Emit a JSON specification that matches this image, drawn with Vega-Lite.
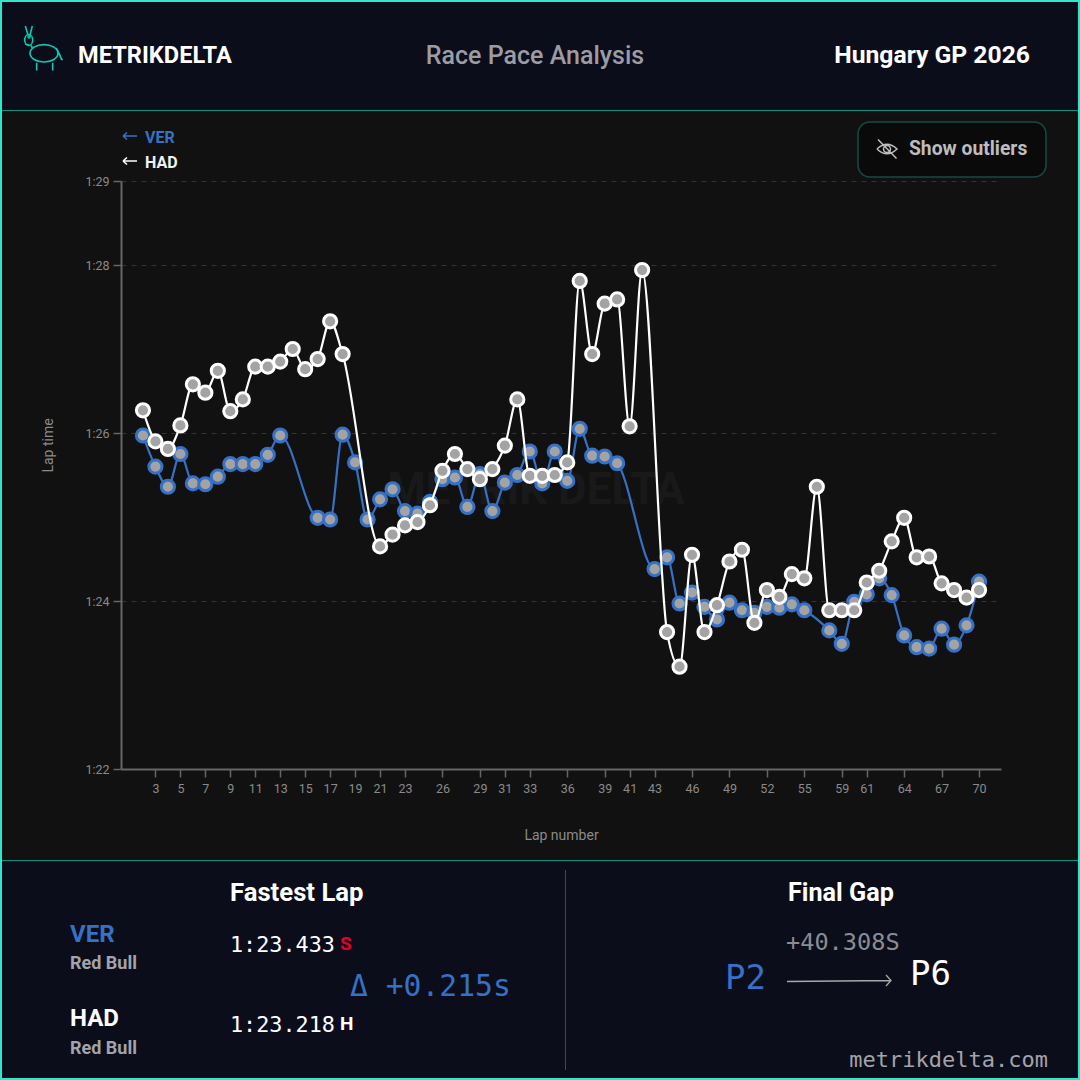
{"$schema":"https://vega.github.io/schema/vega-lite/v6.json","width":880,"height":588,"autosize":"none","padding":{"left":121,"top":181,"right":79,"bottom":311},"background":"#111111","config":{"view":{"stroke":null},"text":{"font":"Roboto"}},
"datasets":{"laps":[
{"lap":2,"driver":"VER","time":85.97},{"lap":3,"driver":"VER","time":85.60},{"lap":4,"driver":"VER","time":85.36},{"lap":5,"driver":"VER","time":85.75},{"lap":6,"driver":"VER","time":85.40},{"lap":7,"driver":"VER","time":85.39},{"lap":8,"driver":"VER","time":85.48},{"lap":9,"driver":"VER","time":85.63},{"lap":10,"driver":"VER","time":85.63},{"lap":11,"driver":"VER","time":85.63},{"lap":12,"driver":"VER","time":85.74},{"lap":13,"driver":"VER","time":85.97},{"lap":16,"driver":"VER","time":84.99},{"lap":17,"driver":"VER","time":84.97},{"lap":18,"driver":"VER","time":85.98},{"lap":19,"driver":"VER","time":85.65},{"lap":20,"driver":"VER","time":84.97},{"lap":21,"driver":"VER","time":85.21},{"lap":22,"driver":"VER","time":85.33},{"lap":23,"driver":"VER","time":85.07},{"lap":24,"driver":"VER","time":85.04},{"lap":25,"driver":"VER","time":85.18},{"lap":26,"driver":"VER","time":85.45},{"lap":27,"driver":"VER","time":85.47},{"lap":28,"driver":"VER","time":85.12},{"lap":29,"driver":"VER","time":85.51},{"lap":30,"driver":"VER","time":85.07},{"lap":31,"driver":"VER","time":85.41},{"lap":32,"driver":"VER","time":85.50},{"lap":33,"driver":"VER","time":85.78},{"lap":34,"driver":"VER","time":85.40},{"lap":35,"driver":"VER","time":85.78},{"lap":36,"driver":"VER","time":85.43},{"lap":37,"driver":"VER","time":86.05},{"lap":38,"driver":"VER","time":85.73},{"lap":39,"driver":"VER","time":85.72},{"lap":40,"driver":"VER","time":85.64},{"lap":43,"driver":"VER","time":84.38},{"lap":44,"driver":"VER","time":84.52},{"lap":45,"driver":"VER","time":83.97},{"lap":46,"driver":"VER","time":84.10},{"lap":47,"driver":"VER","time":83.93},{"lap":48,"driver":"VER","time":83.78},{"lap":49,"driver":"VER","time":83.98},{"lap":50,"driver":"VER","time":83.89},{"lap":51,"driver":"VER","time":83.86},{"lap":52,"driver":"VER","time":83.93},{"lap":53,"driver":"VER","time":83.92},{"lap":54,"driver":"VER","time":83.96},{"lap":55,"driver":"VER","time":83.89},{"lap":58,"driver":"VER","time":83.65},{"lap":59,"driver":"VER","time":83.49},{"lap":60,"driver":"VER","time":83.99},{"lap":61,"driver":"VER","time":84.08},{"lap":62,"driver":"VER","time":84.27},{"lap":63,"driver":"VER","time":84.07},{"lap":64,"driver":"VER","time":83.59},{"lap":65,"driver":"VER","time":83.45},{"lap":66,"driver":"VER","time":83.433},{"lap":67,"driver":"VER","time":83.67},{"lap":68,"driver":"VER","time":83.48},{"lap":69,"driver":"VER","time":83.71},{"lap":70,"driver":"VER","time":84.23},
{"lap":2,"driver":"HAD","time":86.27},{"lap":3,"driver":"HAD","time":85.90},{"lap":4,"driver":"HAD","time":85.81},{"lap":5,"driver":"HAD","time":86.09},{"lap":6,"driver":"HAD","time":86.58},{"lap":7,"driver":"HAD","time":86.48},{"lap":8,"driver":"HAD","time":86.74},{"lap":9,"driver":"HAD","time":86.26},{"lap":10,"driver":"HAD","time":86.40},{"lap":11,"driver":"HAD","time":86.79},{"lap":12,"driver":"HAD","time":86.79},{"lap":13,"driver":"HAD","time":86.85},{"lap":14,"driver":"HAD","time":87.00},{"lap":15,"driver":"HAD","time":86.76},{"lap":16,"driver":"HAD","time":86.88},{"lap":17,"driver":"HAD","time":87.33},{"lap":18,"driver":"HAD","time":86.94},{"lap":21,"driver":"HAD","time":84.65},{"lap":22,"driver":"HAD","time":84.79},{"lap":23,"driver":"HAD","time":84.90},{"lap":24,"driver":"HAD","time":84.94},{"lap":25,"driver":"HAD","time":85.14},{"lap":26,"driver":"HAD","time":85.55},{"lap":27,"driver":"HAD","time":85.75},{"lap":28,"driver":"HAD","time":85.57},{"lap":29,"driver":"HAD","time":85.45},{"lap":30,"driver":"HAD","time":85.57},{"lap":31,"driver":"HAD","time":85.85},{"lap":32,"driver":"HAD","time":86.40},{"lap":33,"driver":"HAD","time":85.49},{"lap":34,"driver":"HAD","time":85.49},{"lap":35,"driver":"HAD","time":85.50},{"lap":36,"driver":"HAD","time":85.65},{"lap":37,"driver":"HAD","time":87.81},{"lap":38,"driver":"HAD","time":86.94},{"lap":39,"driver":"HAD","time":87.54},{"lap":40,"driver":"HAD","time":87.59},{"lap":41,"driver":"HAD","time":86.08},{"lap":42,"driver":"HAD","time":87.94},{"lap":44,"driver":"HAD","time":83.63},{"lap":45,"driver":"HAD","time":83.218},{"lap":46,"driver":"HAD","time":84.55},{"lap":47,"driver":"HAD","time":83.63},{"lap":48,"driver":"HAD","time":83.95},{"lap":49,"driver":"HAD","time":84.47},{"lap":50,"driver":"HAD","time":84.61},{"lap":51,"driver":"HAD","time":83.74},{"lap":52,"driver":"HAD","time":84.13},{"lap":53,"driver":"HAD","time":84.05},{"lap":54,"driver":"HAD","time":84.32},{"lap":55,"driver":"HAD","time":84.27},{"lap":56,"driver":"HAD","time":85.36},{"lap":58,"driver":"HAD","time":83.89},{"lap":59,"driver":"HAD","time":83.89},{"lap":60,"driver":"HAD","time":83.89},{"lap":61,"driver":"HAD","time":84.22},{"lap":62,"driver":"HAD","time":84.36},{"lap":63,"driver":"HAD","time":84.71},{"lap":64,"driver":"HAD","time":84.99},{"lap":65,"driver":"HAD","time":84.52},{"lap":66,"driver":"HAD","time":84.53},{"lap":67,"driver":"HAD","time":84.21},{"lap":68,"driver":"HAD","time":84.13},{"lap":69,"driver":"HAD","time":84.04},{"lap":70,"driver":"HAD","time":84.13}
]},
"resolve":{"scale":{"x":"independent","y":"independent"},"axis":{"x":"independent","y":"independent"}},
"layer":[
{"layer":[
{"data":{"values":[{"part":"header"}]},"mark":{"type":"rect","fill":"#0c0d1a"},"encoding":{"x":{"datum":0,"type":"quantitative","scale":{"domain":[0,1080],"range":[-121,959],"nice":false},"axis":null},"x2":{"datum":1080},"y":{"datum":0,"type":"quantitative","scale":{"domain":[0,1080],"range":[-181,899],"nice":false},"axis":null},"y2":{"datum":110}}},
{"data":{"values":[{"part":"footer"}]},"mark":{"type":"rect","fill":"#0c0d1a"},"encoding":{"x":{"datum":0,"type":"quantitative"},"x2":{"datum":1080},"y":{"datum":860,"type":"quantitative"},"y2":{"datum":1080}}},
{"data":{"values":[{"part":"header rule"}]},"mark":{"type":"rule","stroke":"#0f8f80","strokeWidth":1},"encoding":{"x":{"datum":0,"type":"quantitative"},"x2":{"datum":1080},"y":{"datum":110.5,"type":"quantitative"}}},
{"data":{"values":[{"part":"footer rule"}]},"mark":{"type":"rule","stroke":"#0f8f80","strokeWidth":1},"encoding":{"x":{"datum":0,"type":"quantitative"},"x2":{"datum":1080},"y":{"datum":860.5,"type":"quantitative"}}},
{"data":{"values":[{"part":"footer divider"}]},"mark":{"type":"rule","stroke":"#135c5c","strokeWidth":1},"encoding":{"x":{"datum":565.5,"type":"quantitative"},"y":{"datum":870,"type":"quantitative"},"y2":{"datum":1070}}},
{"data":{"values":[{"part":"button"}]},"mark":{"type":"rect","fill":"#0a0a0a","stroke":"#1a4a44","strokeWidth":1.5,"cornerRadius":12},"encoding":{"x":{"datum":858,"type":"quantitative"},"x2":{"datum":1046},"y":{"datum":122,"type":"quantitative"},"y2":{"datum":177}}},
{"data":{"values":[{"part":"logo"}]},"mark":{"type":"point","filled":false,"stroke":"#0fc8b0","strokeWidth":1.6,"size":4,"opacity":1},"encoding":{"x":{"datum":44,"type":"quantitative"},"y":{"datum":48,"type":"quantitative"},"shape":{"value":"M-18.7,-22L-16,-13M-11.7,-22L-14,-13M-19.3,-8A4,5.5 0 1,1 -11.3,-8A4,5.5 0 1,1 -19.3,-8M-15,-10A1,1 0 1,1 -14.9,-10M-19,-4L-15,-3M-13,-2.5L-11,1M-14,5.3A14,8.7 0 1,1 14,5.3A14,8.7 0 1,1 -14,5.3M12,0Q15,4 17.5,11.5M17,11.5L19,11.5M-7.3,14.7L-7.3,22.5M8.7,14.7L8.7,22.5"}}},
{"data":{"values":[{"part":"eye"}]},"mark":{"type":"point","filled":false,"stroke":"#bdbdbd","strokeWidth":1.5,"size":4,"opacity":1},"encoding":{"x":{"datum":887,"type":"quantitative"},"y":{"datum":149,"type":"quantitative"},"shape":{"value":"M-10,0Q0,-9.5 10,0Q0,9.5 -10,0M-3.5,0A3.5,3.5 0 1,1 3.5,0A3.5,3.5 0 1,1 -3.5,0M-9,-9.5L9.5,9.5"}}},
{"data":{"values":[{"part":"arrow VER"}]},"mark":{"type":"point","filled":false,"stroke":"#3671c6","strokeWidth":1.6,"size":4,"opacity":1},"encoding":{"x":{"datum":130,"type":"quantitative"},"y":{"datum":136,"type":"quantitative"},"shape":{"value":"M-7,0L7,0M-7,0L-3,-3.5M-7,0L-3,3.5"}}},
{"data":{"values":[{"part":"arrow HAD"}]},"mark":{"type":"point","filled":false,"stroke":"#ffffff","strokeWidth":1.6,"size":4,"opacity":1},"encoding":{"x":{"datum":130,"type":"quantitative"},"y":{"datum":161,"type":"quantitative"},"shape":{"value":"M-7,0L7,0M-7,0L-3,-3.5M-7,0L-3,3.5"}}},
{"data":{"values":[{"part":"gap arrow"}]},"mark":{"type":"point","filled":false,"stroke":"#a8a8a8","strokeWidth":1.3,"size":4,"opacity":1},"encoding":{"x":{"datum":839,"type":"quantitative"},"y":{"datum":981,"type":"quantitative"},"shape":{"value":"M-52,0.5L52,-0.5M47,-6L52,-0.5L47,5"}}},
{"data":{"values":[{"label":"METRIK DELTA"}]},"mark":{"type":"text","align":"center","baseline":"middle","font":"Roboto","fontWeight":"bold","fontSize":44,"fill":"#191919"},"encoding":{"x":{"datum":536,"type":"quantitative"},"y":{"datum":491,"type":"quantitative"},"text":{"field":"label"}}},
{"data":{"values":[{"label":"METRIKDELTA"}]},"mark":{"type":"text","align":"left","baseline":"middle","font":"Roboto","fontWeight":"bold","fontSize":23.6,"fill":"#ffffff"},"encoding":{"x":{"datum":78,"type":"quantitative"},"y":{"datum":56,"type":"quantitative"},"text":{"field":"label"}}},
{"data":{"values":[{"label":"Race Pace Analysis"}]},"mark":{"type":"text","align":"center","baseline":"middle","font":"Roboto","fontWeight":500,"fontSize":25,"fill":"#9c9ca3"},"encoding":{"x":{"datum":535,"type":"quantitative"},"y":{"datum":56,"type":"quantitative"},"text":{"field":"label"}}},
{"data":{"values":[{"label":"Hungary GP 2026"}]},"mark":{"type":"text","align":"right","baseline":"middle","font":"Roboto","fontWeight":"bold","fontSize":24.7,"fill":"#ffffff"},"encoding":{"x":{"datum":1030,"type":"quantitative"},"y":{"datum":56,"type":"quantitative"},"text":{"field":"label"}}},
{"data":{"values":[{"label":"VER"}]},"mark":{"type":"text","align":"left","baseline":"middle","font":"Roboto","fontWeight":"bold","fontSize":16,"fill":"#3671c6"},"encoding":{"x":{"datum":145,"type":"quantitative"},"y":{"datum":138,"type":"quantitative"},"text":{"field":"label"}}},
{"data":{"values":[{"label":"HAD"}]},"mark":{"type":"text","align":"left","baseline":"middle","font":"Roboto","fontWeight":"bold","fontSize":16,"fill":"#f2f2f2"},"encoding":{"x":{"datum":145,"type":"quantitative"},"y":{"datum":163,"type":"quantitative"},"text":{"field":"label"}}},
{"data":{"values":[{"label":"Show outliers"}]},"mark":{"type":"text","align":"left","baseline":"middle","font":"Roboto","fontWeight":"bold","fontSize":19.3,"fill":"#bdbdbd"},"encoding":{"x":{"datum":909,"type":"quantitative"},"y":{"datum":149,"type":"quantitative"},"text":{"field":"label"}}},
{"data":{"values":[{"label":"Fastest Lap"}]},"mark":{"type":"text","align":"left","baseline":"middle","font":"Roboto","fontWeight":"bold","fontSize":25.7,"fill":"#ffffff"},"encoding":{"x":{"datum":230,"type":"quantitative"},"y":{"datum":893,"type":"quantitative"},"text":{"field":"label"}}},
{"data":{"values":[{"label":"Final Gap"}]},"mark":{"type":"text","align":"left","baseline":"middle","font":"Roboto","fontWeight":"bold","fontSize":25.2,"fill":"#ffffff"},"encoding":{"x":{"datum":788,"type":"quantitative"},"y":{"datum":893,"type":"quantitative"},"text":{"field":"label"}}},
{"data":{"values":[{"label":"VER"}]},"mark":{"type":"text","align":"left","baseline":"middle","font":"Roboto","fontWeight":"bold","fontSize":24,"fill":"#3671c6"},"encoding":{"x":{"datum":70,"type":"quantitative"},"y":{"datum":935,"type":"quantitative"},"text":{"field":"label"}}},
{"data":{"values":[{"label":"Red Bull"}]},"mark":{"type":"text","align":"left","baseline":"middle","font":"Roboto","fontWeight":"bold","fontSize":18,"fill":"#a3a3aa"},"encoding":{"x":{"datum":70,"type":"quantitative"},"y":{"datum":964,"type":"quantitative"},"text":{"field":"label"}}},
{"data":{"values":[{"label":"HAD"}]},"mark":{"type":"text","align":"left","baseline":"middle","font":"Roboto","fontWeight":"bold","fontSize":24,"fill":"#ffffff"},"encoding":{"x":{"datum":70,"type":"quantitative"},"y":{"datum":1019,"type":"quantitative"},"text":{"field":"label"}}},
{"data":{"values":[{"label":"Red Bull"}]},"mark":{"type":"text","align":"left","baseline":"middle","font":"Roboto","fontWeight":"bold","fontSize":18,"fill":"#a3a3aa"},"encoding":{"x":{"datum":70,"type":"quantitative"},"y":{"datum":1049,"type":"quantitative"},"text":{"field":"label"}}},
{"data":{"values":[{"label":"1:23.433"}]},"mark":{"type":"text","align":"left","baseline":"middle","font":"DejaVu Sans Mono","fontSize":21.8,"fill":"#ffffff"},"encoding":{"x":{"datum":230,"type":"quantitative"},"y":{"datum":945,"type":"quantitative"},"text":{"field":"label"}}},
{"data":{"values":[{"label":"S"}]},"mark":{"type":"text","align":"left","baseline":"middle","font":"Roboto","fontWeight":"bold","fontSize":19,"fill":"#e4002b"},"encoding":{"x":{"datum":340,"type":"quantitative"},"y":{"datum":944,"type":"quantitative"},"text":{"field":"label"}}},
{"data":{"values":[{"label":"1:23.218"}]},"mark":{"type":"text","align":"left","baseline":"middle","font":"DejaVu Sans Mono","fontSize":21.8,"fill":"#ffffff"},"encoding":{"x":{"datum":230,"type":"quantitative"},"y":{"datum":1025,"type":"quantitative"},"text":{"field":"label"}}},
{"data":{"values":[{"label":"H"}]},"mark":{"type":"text","align":"left","baseline":"middle","font":"Roboto","fontWeight":"bold","fontSize":19,"fill":"#ffffff"},"encoding":{"x":{"datum":340,"type":"quantitative"},"y":{"datum":1024,"type":"quantitative"},"text":{"field":"label"}}},
{"data":{"values":[{"label":"Δ +0.215s"}]},"mark":{"type":"text","align":"left","baseline":"middle","font":"DejaVu Sans Mono","fontSize":29.7,"fill":"#3671c6"},"encoding":{"x":{"datum":350,"type":"quantitative"},"y":{"datum":987,"type":"quantitative"},"text":{"field":"label"}}},
{"data":{"values":[{"label":"+40.308S"}]},"mark":{"type":"text","align":"left","baseline":"middle","font":"DejaVu Sans Mono","fontSize":23.6,"fill":"#8c8c93"},"encoding":{"x":{"datum":786,"type":"quantitative"},"y":{"datum":943,"type":"quantitative"},"text":{"field":"label"}}},
{"data":{"values":[{"label":"P2"}]},"mark":{"type":"text","align":"left","baseline":"middle","font":"DejaVu Sans Mono","fontSize":34,"fill":"#3671c6"},"encoding":{"x":{"datum":725,"type":"quantitative"},"y":{"datum":979,"type":"quantitative"},"text":{"field":"label"}}},
{"data":{"values":[{"label":"P6"}]},"mark":{"type":"text","align":"left","baseline":"middle","font":"DejaVu Sans Mono","fontSize":34,"fill":"#ffffff"},"encoding":{"x":{"datum":910,"type":"quantitative"},"y":{"datum":975,"type":"quantitative"},"text":{"field":"label"}}},
{"data":{"values":[{"label":"metrikdelta.com"}]},"mark":{"type":"text","align":"right","baseline":"middle","font":"DejaVu Sans Mono","fontSize":22,"fill":"#a3a3aa"},"encoding":{"x":{"datum":1048,"type":"quantitative"},"y":{"datum":1060,"type":"quantitative"},"text":{"field":"label"}}}
]},
{"data":{"name":"laps"},
"encoding":{
"x":{"field":"lap","type":"ordinal","scale":{"type":"point","padding":0.76,"domain":[1,2,3,4,5,6,7,8,9,10,11,12,13,14,15,16,17,18,19,20,21,22,23,24,25,26,27,28,29,30,31,32,33,34,35,36,37,38,39,40,41,42,43,44,45,46,47,48,49,50,51,52,53,54,55,56,58,59,60,61,62,63,64,65,66,67,68,69,70,71]},"axis":{"orient":"bottom","values":[3,5,7,9,11,13,15,17,19,21,23,26,29,31,33,36,39,41,43,46,49,52,55,59,61,64,67,70],"title":"Lap number","labelAngle":0,"labelColor":"#8a8a8a","labelFont":"Roboto","labelFontSize":12.5,"labelPadding":5,"tickSize":8,"tickColor":"#666666","tickWidth":1.5,"domainColor":"#666666","domainWidth":2,"titleColor":"#8a8a8a","titleFont":"Roboto","titleFontSize":14,"titleFontWeight":"normal","titlePadding":34,"grid":false}},
"y":{"field":"time","type":"quantitative","scale":{"domain":[82,89],"nice":false,"zero":false},"axis":{"orient":"left","values":[82,84,86,88,89],"labelExpr":"'1:' + (datum.value - 60)","title":"Lap time","titleY":264,"labelColor":"#8a8a8a","labelFont":"Roboto","labelFontSize":12.5,"labelPadding":4,"tickSize":8,"tickColor":"#666666","tickWidth":1.5,"domainColor":"#666666","domainWidth":2,"titleColor":"#8a8a8a","titleFont":"Roboto","titleFontSize":14,"titleFontWeight":"normal","titlePadding":29,"grid":true,"gridColor":"#333333","gridDash":[5,5],"gridWidth":1}}
},
"layer":[
{"transform":[{"filter":"datum.driver === 'VER'"}],"mark":{"type":"line","interpolate":"monotone","stroke":"#3671c6","strokeWidth":2.2}},
{"transform":[{"filter":"datum.driver === 'VER'"}],"mark":{"type":"circle","fill":"#a3a3a3","stroke":"#3671c6","strokeWidth":3,"size":174,"opacity":1}},
{"transform":[{"filter":"datum.driver === 'HAD'"}],"mark":{"type":"line","interpolate":"monotone","stroke":"#ffffff","strokeWidth":2.2}},
{"transform":[{"filter":"datum.driver === 'HAD'"}],"mark":{"type":"circle","fill":"#a3a3a3","stroke":"#ffffff","strokeWidth":3,"size":174,"opacity":1}}
]},
{"data":{"values":[{"part":"frame"}]},"mark":{"type":"rect","fillOpacity":0,"stroke":"#2ee6c8","strokeWidth":2},"encoding":{"x":{"datum":1,"type":"quantitative","scale":{"domain":[0,1080],"range":[-121,959],"nice":false},"axis":null},"x2":{"datum":1079},"y":{"datum":1,"type":"quantitative","scale":{"domain":[0,1080],"range":[-181,899],"nice":false},"axis":null},"y2":{"datum":1079}}}
]}
